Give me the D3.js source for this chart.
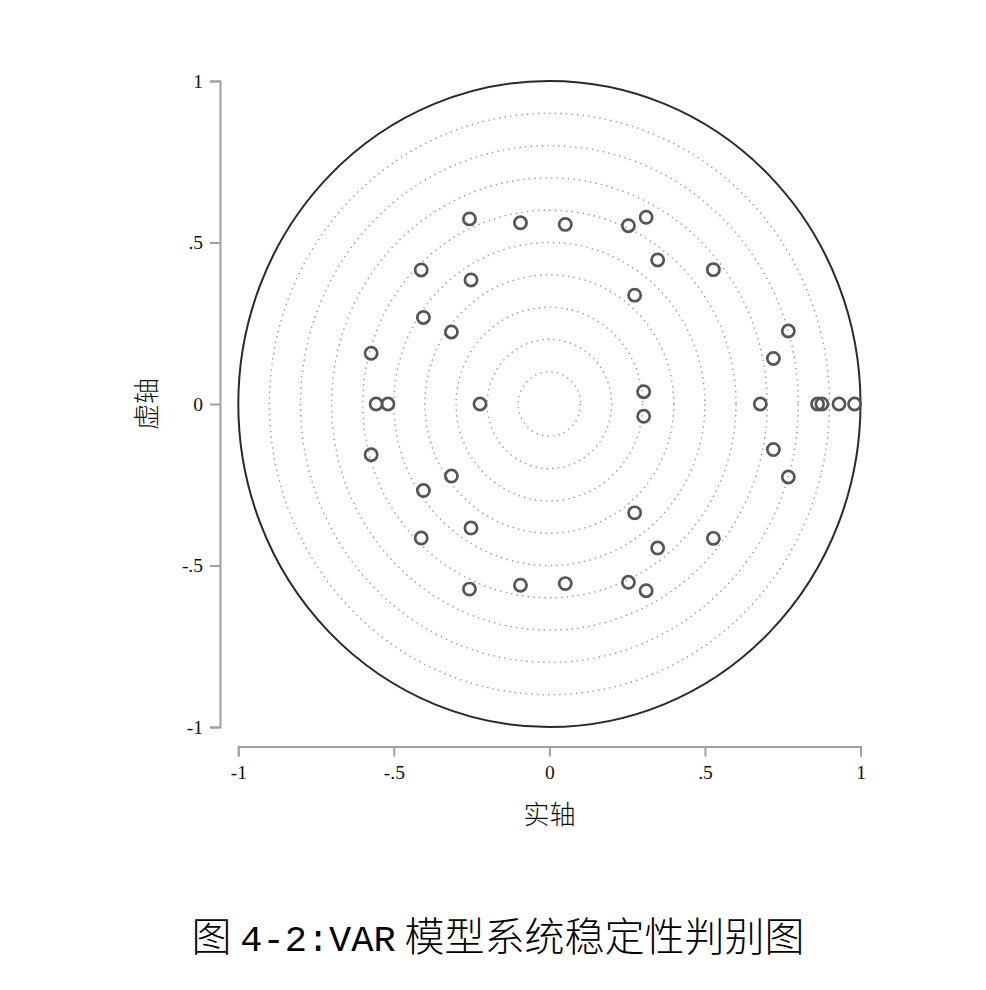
<!DOCTYPE html>
<html><head><meta charset="utf-8">
<script src="https://cdn.jsdelivr.net/npm/d3@7"></script>
<style>body{margin:0;background:#fff}</style>
</head><body>
<svg id="c" width="986" height="990"></svg>
<script>
// Eigenvalues (real, imaginary) of VAR companion matrix
const realParts = [-0.257,-0.093,0.051,0.254,0.311,0.348,0.527,-0.412,-0.252,0.274,-0.405,-0.315,0.768,0.720,-0.573,0.303,
                   -0.257,-0.093,0.051,0.254,0.311,0.348,0.527,-0.412,-0.252,0.274,-0.405,-0.315,0.768,0.720,-0.573,0.303,
                   -0.557,-0.519,-0.223,0.678,0.862,0.876,0.931,0.981];
const imagParts = [0.573,0.561,0.556,0.552,0.578,0.446,0.416,0.415,0.384,0.337,0.268,0.223,0.226,0.141,0.157,0.038,
                   -0.573,-0.561,-0.556,-0.552,-0.578,-0.446,-0.416,-0.415,-0.384,-0.337,-0.268,-0.223,-0.226,-0.141,-0.157,-0.038,
                   0,0,0,0,0,0,0,0];
const gridRadii = [0.1,0.2,0.3,0.4,0.5,0.6,0.7,0.8,0.9];
const tickValues = [-1,-0.5,0,0.5,1];
const tickLabels = ["-1","-.5","0",".5","1"];
const xTitle = "实轴", yTitle = "虚轴";
const caption = ["图 ","4-2:VAR"," 模型系统稳定性判别图"];

const svg = d3.select("#c");
const x = d3.scaleLinear().domain([-1,1]).range([238.3,860.5]);
const y = d3.scaleLinear().domain([-1,1]).range([727,81]);
const fmt = d => tickLabels[tickValues.indexOf(d)];

// dotted grid circles
svg.append("g").selectAll("ellipse").data(gridRadii).join("ellipse")
  .attr("cx",x(0)).attr("cy",y(0))
  .attr("rx",d=>x(d)-x(0)).attr("ry",d=>y(0)-y(d))
  .attr("fill","none").attr("stroke","#999").attr("stroke-width",1.4)
  .attr("stroke-dasharray","1.4 4.2");

// unit circle
svg.append("ellipse").attr("cx",x(0)).attr("cy",y(0))
  .attr("rx",x(1)-x(0)).attr("ry",y(0)-y(1))
  .attr("fill","none").attr("stroke","#2a2a2a").attr("stroke-width",2);

// axes
const yAxis = svg.append("g").attr("transform","translate(220,0)")
  .call(d3.axisLeft(y).tickValues(tickValues).tickFormat(fmt).tickSize(10).tickPadding(7));
const xAxis = svg.append("g").attr("transform","translate(0,746.5)")
  .call(d3.axisBottom(x).tickValues(tickValues).tickFormat(fmt).tickSize(10).tickPadding(9));
[xAxis,yAxis].forEach(a=>{
  a.selectAll("path,line").attr("stroke","#a0a0a0").attr("stroke-width",2);
  a.selectAll("text").attr("fill","#111").style("font-family","'Liberation Serif',serif").style("font-size","19.5px");
});

// points
svg.append("g").selectAll("circle").data(realParts.map((r,i)=>[r,imagParts[i]])).join("circle")
  .attr("cx",d=>x(d[0])).attr("cy",d=>y(d[1])).attr("r",6.1)
  .attr("fill","none").attr("stroke","#555").attr("stroke-width",2.7);

// axis titles
svg.append("text").attr("x",x(0)).attr("y",824).attr("text-anchor","middle")
  .style("font-family","'Noto Sans CJK SC'").style("font-size","26px").style("font-weight","300").attr("fill","#111").text(xTitle);
svg.append("text").attr("transform",`translate(156,${y(0)}) rotate(-90)`).attr("text-anchor","middle")
  .style("font-family","'Noto Sans CJK SC'").style("font-size","26px").style("font-weight","300").attr("fill","#111").text(yTitle);

// caption
const cap = svg.append("text").attr("x",498).attr("y",951).attr("text-anchor","middle")
  .style("font-family","'Noto Sans CJK SC'").style("font-size","40px").style("font-weight","300").attr("fill","#000");
cap.append("tspan").text(caption[0]);
cap.append("tspan").style("font-family","'Liberation Mono',monospace").style("font-size","37px").text(caption[1]);
cap.append("tspan").text(caption[2]);
</script>
</body></html>
